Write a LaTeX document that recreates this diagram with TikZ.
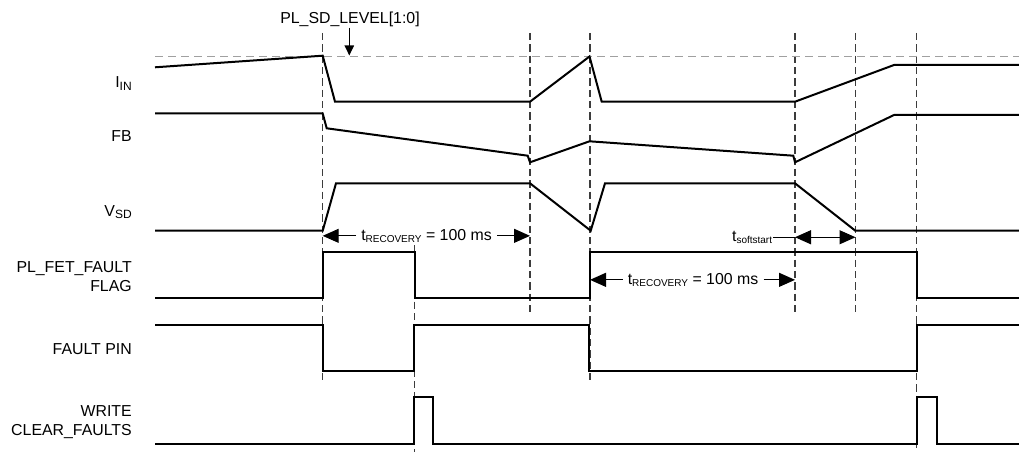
\documentclass[tikz,border=0pt]{standalone}
\usepackage{fontspec}
\setmainfont{Liberation Sans}
\usetikzlibrary{arrows.meta}
\definecolor{markgray}{RGB}{60,60,60}
\definecolor{levelgray}{RGB}{160,160,160}
\newcommand{\sigsub}[1]{\raisebox{-2pt}{\fontsize{9}{9}\selectfont #1}}
\newcommand{\tsub}[1]{\raisebox{-2pt}{\fontsize{7.5}{7.5}\selectfont #1}}

\begin{document}
\begin{tikzpicture}[>=Stealth, x=0.75pt, y=-0.75pt,
  signal/.style={line width=1.5pt, miter limit=4},
  marker/.style={markgray, line width=0.8pt, dash pattern=on 5.5pt off 3pt},
  level/.style={levelgray, line width=0.8pt, dash pattern=on 6pt off 3.75pt},
  siglabel/.style={anchor=base east, inner sep=0pt, font=\fontsize{11.9}{14}\selectfont},
  spanlabel/.style={anchor=base, inner xsep=3.75pt, inner ysep=0pt, font=\fontsize{11.9}{14}\selectfont},
  dim/.style={line width=0.8pt, -{Triangle[length=12pt, width=10.5pt]}},
  ddim/.style={line width=0.8pt, {Triangle[length=12pt, width=10.5pt]}-{Triangle[length=12pt, width=10.5pt]}}]
  \useasboundingbox (0,0) rectangle (1019,452);

  % Event markers
  \foreach \x/\ya/\yb [count=\i] in {322.7/33/380, 530/33/312, 590/33/380,
      795/33/312, 855.5/33/312, 916.7/33/452, 414.5/245/452} {
    \coordinate (m\i) at (\x,0);
    \draw[marker] (\x,\ya) -- (\x,\yb);
  }
  \draw[level] (155,56.5) -- (1019,56.5);

  % Shutdown level
  \node[anchor=base, inner sep=0pt, font=\fontsize{11.9}{14}\selectfont] (sdlevel) at (350,24) {PL\_SD\_LEVEL[1:0]};
  \coordinate (sdtip) at (349.3,55.5);
  \draw[line width=0.8pt, -{Triangle[length=7.5pt, width=7pt]}] (sdlevel.south -| sdtip) -- (sdtip);

  % Signal names
  \node[siglabel] (iin) at (132,87.5) {I\sigsub{IN}};
  \node[siglabel] (fb) at (132,142) {FB};
  \node[siglabel] (vsd) at (132,216) {V\sigsub{SD}};
  \node[siglabel] (fet) at (132,272.3) {PL\_FET\_FAULT};
  \node[siglabel] (fetflag) at (132,291.7) {FLAG};
  \node[siglabel] (pin) at (132,354.3) {FAULT PIN};
  \node[siglabel] (write) at (132,416.7) {WRITE};
  \node[siglabel] (clear) at (132,435.7) {CLEAR\_FAULTS};

  % Waveforms
  \draw[signal] (155,67.3) -- (322.7,55.7) -- (335,101.7) -- (530,101.7) -- (589.5,56.5)
    -- (601.7,101.7) -- (795,101.7) -- (894,65) -- (1019,65);
  \draw[signal] (155,113.5) -- (322.7,113.5) -- (326.7,128.3) -- (527.7,155.7) -- (530,162.3)
    -- (589.5,141.3) -- (793.3,155.7) -- (795,162.3) -- (894,115) -- (1019,115);
  \draw[signal] (155,230.7) -- (322.7,230.7) -- (336,183.3) -- (530,183.3) -- (590.7,230.7)
    -- (605,183.3) -- (795,183.3) -- (855.3,230.7) -- (1019,230.7);
  \draw[signal] (155,298) -- (322.7,298) -- (322.7,252.3) -- (414.5,252.3) -- (414.5,298)
    -- (590,298) -- (590,252.3) -- (916.7,252.3) -- (916.7,298) -- (1019,298);
  \draw[signal] (155,325) -- (323.3,325) -- (323.3,371.3) -- (414.3,371.3) -- (414.3,325)
    -- (589.3,325) -- (589.3,371.3) -- (916.7,371.3) -- (916.7,325) -- (1019,325);
  \draw[signal] (155,444) -- (414.3,444) -- (414.3,396.7) -- (432.7,396.7) -- (432.7,444)
    -- (916.7,444) -- (916.7,396.7) -- (936.7,396.7) -- (936.7,444) -- (1019,444);

  % Timing spans
  \node[spanlabel] (rec1) at (426.5,240) {t\tsub{RECOVERY} = 100 ms};
  \draw[dim] (rec1.west) -- (rec1.west -| m1);
  \draw[dim] (rec1.east) -- (rec1.east -| m2);
  \node[spanlabel] (rec2) at (693,284) {t\tsub{RECOVERY} = 100 ms};
  \draw[dim] (rec2.west) -- (rec2.west -| m3);
  \draw[dim] (rec2.east) -- (rec2.east -| m4);
  \node[anchor=base east, inner xsep=0.5pt, inner ysep=0pt, font=\fontsize{11.9}{14}\selectfont] (soft) at (773,241) {t\tsub{softstart}};
  \draw[line width=0.8pt] (soft.east) -- (soft.east -| m4);
  \draw[ddim] (soft.east -| m4) -- (soft.east -| m5);
\end{tikzpicture}
\end{document}
